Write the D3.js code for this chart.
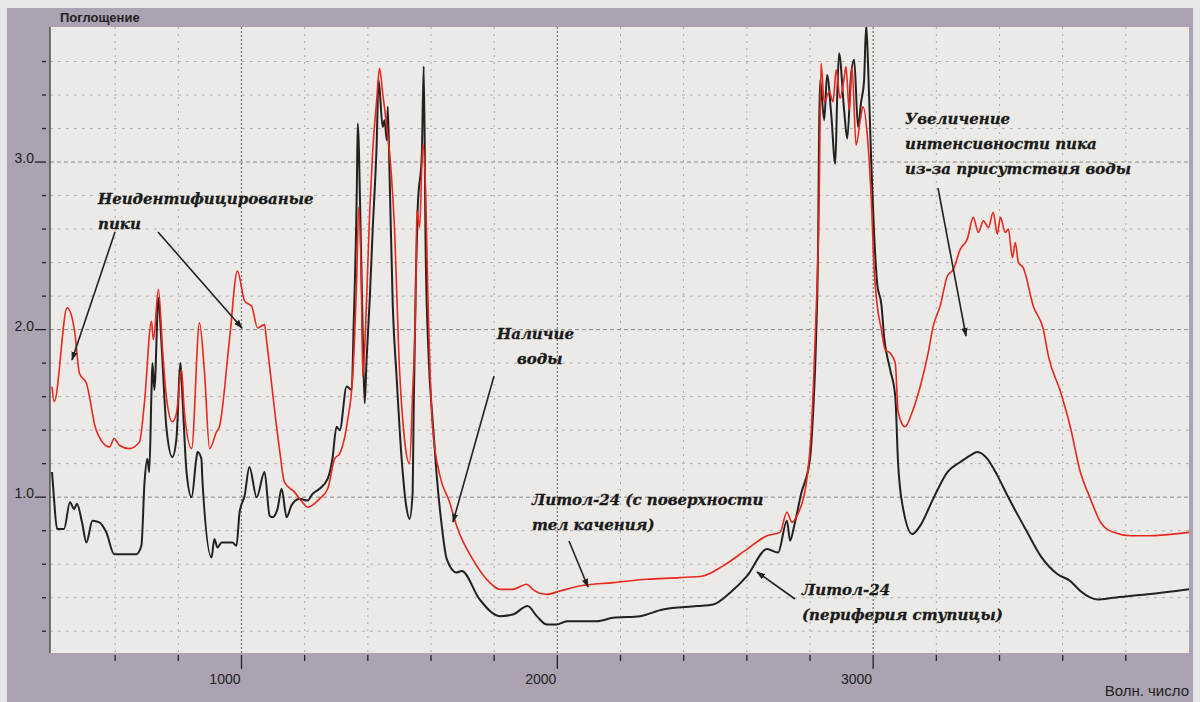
<!DOCTYPE html>
<html>
<head>
<meta charset="utf-8">
<script src="https://cdn.jsdelivr.net/npm/d3@7"></script>
<style>
  body { margin: 0; background: #e6e6e6; }
  svg { display: block; }
  .note { font-family: "DejaVu Serif", serif; font-weight: bold; font-style: italic; font-size: 15px; fill: #1a1a1a; stroke: #1a1a1a; stroke-width: 0.3px; }
  .axis-text { font-family: "Liberation Sans", Arial, sans-serif; font-size: 14px; fill: #222; }
</style>
</head>
<body>
<div id="chart"></div>
<script>
// Литол-24 (с поверхности тел качения) — red
const surfaceSpectrum = [
  [400, 1.66], [407, 1.57], [448, 2.13], [471, 2.0], [487, 1.74], [509, 1.68], [540, 1.4],
  [582, 1.3], [597, 1.35], [613, 1.31], [645, 1.29], [677, 1.33], [693, 1.57], [715, 2.05],
  [721, 1.94], [737, 2.24], [750, 1.88], [762, 1.6], [781, 1.45], [794, 1.5], [810, 1.76],
  [819, 1.51], [842, 1.29], [867, 2.04], [883, 1.74], [899, 1.29], [921, 1.39], [930, 1.42],
  [962, 1.94], [987, 2.35], [1010, 2.17], [1032, 2.14], [1051, 2.01], [1073, 2.03], [1079, 1.94],
  [1120, 1.29], [1136, 1.09], [1168, 1.03], [1193, 0.97], [1209, 0.94], [1247, 0.99], [1273, 1.05],
  [1295, 1.23], [1311, 1.26], [1336, 1.46], [1352, 1.72], [1365, 2.32], [1371, 2.73], [1380, 2.22],
  [1384, 1.72], [1393, 2.02], [1406, 2.71], [1415, 3.05], [1428, 3.37], [1437, 3.56], [1447, 3.41],
  [1460, 3.21], [1475, 2.91], [1485, 2.58], [1498, 1.86], [1517, 1.33], [1532, 1.2], [1542, 1.63],
  [1552, 2.22], [1555, 2.71], [1564, 2.61], [1574, 3.11], [1583, 2.82], [1590, 2.22], [1605, 1.42],
  [1628, 1.13], [1659, 0.97], [1681, 0.83], [1732, 0.63], [1786, 0.49], [1818, 0.45], [1859, 0.45],
  [1903, 0.48], [1922, 0.45], [1967, 0.42], [2008, 0.44], [2071, 0.47], [2176, 0.49], [2284, 0.51],
  [2388, 0.52], [2461, 0.53], [2525, 0.59], [2601, 0.69], [2664, 0.77], [2705, 0.79], [2727, 0.91],
  [2743, 0.85], [2759, 0.89], [2788, 1.08], [2804, 1.4], [2816, 1.93], [2829, 2.78], [2835, 3.59],
  [2845, 3.36], [2861, 3.42], [2873, 3.36], [2883, 3.55], [2895, 3.38], [2908, 3.5], [2914, 3.57],
  [2924, 3.31], [2933, 3.57], [2946, 3.1], [2959, 3.25], [2968, 3.33], [2981, 3.17], [2994, 2.78],
  [3003, 2.36], [3013, 2.14], [3026, 2.0], [3038, 1.88], [3054, 1.86], [3070, 1.8], [3079, 1.51],
  [3101, 1.42], [3124, 1.51], [3149, 1.66], [3174, 1.86], [3190, 2.02], [3212, 2.14], [3235, 2.32],
  [3254, 2.36], [3276, 2.48], [3298, 2.54], [3317, 2.67], [3333, 2.58], [3349, 2.65], [3365, 2.61],
  [3380, 2.7], [3393, 2.57], [3403, 2.67], [3418, 2.58], [3428, 2.6], [3441, 2.43], [3450, 2.52],
  [3460, 2.4], [3475, 2.37], [3507, 2.14], [3539, 2.0], [3555, 1.84], [3593, 1.63], [3624, 1.42],
  [3656, 1.15], [3688, 0.99], [3720, 0.85], [3761, 0.79], [3815, 0.77], [3869, 0.77], [4000, 0.79]
];

// Литол-24 (периферия ступицы) — black
const hubSpectrum = [
  [400, 1.15], [406, 1.0], [416, 0.81], [438, 0.81], [457, 0.97], [470, 0.93], [479, 0.96],
  [495, 0.85], [509, 0.73], [528, 0.86], [550, 0.85], [572, 0.79], [597, 0.66], [623, 0.66],
  [667, 0.66], [683, 0.71], [693, 1.09], [702, 1.23], [708, 1.15], [715, 1.63], [718, 1.8],
  [724, 1.64], [737, 2.19], [746, 1.94], [762, 1.42], [781, 1.24], [794, 1.35], [807, 1.8],
  [813, 1.6], [826, 1.15], [842, 1.0], [857, 1.23], [861, 1.27], [873, 1.23], [876, 1.11],
  [905, 0.64], [914, 0.75], [924, 0.7], [937, 0.73], [971, 0.73], [984, 0.71], [994, 0.91],
  [1010, 1.01], [1025, 1.18], [1048, 1.0], [1073, 1.15], [1089, 0.89], [1098, 0.88], [1114, 0.93],
  [1127, 1.05], [1143, 0.88], [1158, 0.95], [1184, 0.99], [1209, 0.98], [1225, 1.02], [1247, 1.05],
  [1273, 1.11], [1288, 1.23], [1301, 1.42], [1311, 1.4], [1333, 1.66], [1349, 1.64], [1355, 2.02],
  [1365, 2.82], [1368, 3.23], [1377, 2.61], [1384, 1.96], [1390, 1.56], [1396, 1.82], [1406, 2.18],
  [1415, 2.58], [1428, 3.11], [1434, 3.49], [1447, 3.21], [1453, 3.25], [1460, 3.13], [1463, 3.33],
  [1469, 2.91], [1479, 2.14], [1491, 1.72], [1507, 1.23], [1523, 0.93], [1532, 0.87], [1542, 1.03],
  [1545, 1.51], [1552, 2.3], [1558, 2.73], [1571, 3.05], [1577, 3.57], [1583, 2.49], [1593, 1.82],
  [1605, 1.46], [1618, 1.13], [1634, 0.83], [1650, 0.63], [1681, 0.55], [1697, 0.56], [1754, 0.39],
  [1818, 0.29], [1859, 0.3], [1906, 0.35], [1935, 0.29], [1967, 0.24], [1998, 0.24], [2030, 0.26],
  [2125, 0.26], [2176, 0.28], [2262, 0.29], [2334, 0.33], [2442, 0.35], [2493, 0.36], [2547, 0.43],
  [2601, 0.53], [2664, 0.69], [2699, 0.67], [2727, 0.86], [2737, 0.74], [2750, 0.83], [2772, 1.02],
  [2800, 1.23], [2810, 1.51], [2819, 1.93], [2826, 2.57], [2829, 3.21], [2832, 3.49], [2845, 3.25],
  [2854, 3.52], [2867, 3.29], [2880, 2.99], [2886, 3.38], [2892, 3.65], [2908, 3.31], [2918, 3.14],
  [2930, 3.52], [2940, 3.61], [2952, 3.21], [2962, 3.36], [2971, 3.48], [2978, 3.82], [2984, 3.57],
  [2994, 2.99], [3003, 2.57], [3013, 2.27], [3026, 2.15], [3035, 1.95], [3054, 1.76], [3070, 1.6],
  [3079, 1.2], [3095, 0.93], [3124, 0.78], [3149, 0.83], [3190, 0.99], [3235, 1.15], [3276, 1.21],
  [3308, 1.25], [3330, 1.27], [3361, 1.23], [3393, 1.13], [3425, 1.01], [3488, 0.79], [3530, 0.65],
  [3584, 0.54], [3624, 0.5], [3656, 0.44], [3710, 0.39], [3761, 0.4], [3869, 0.42], [4000, 0.45]
];

const xMinorTicks = d3.range(600, 4000, 200);
const xLabelTicks = [1000, 2000, 3000];
const yMinorTicks = d3.range(0.2, 3.7, 0.2).map((v) => +v.toFixed(1));
const yLabelTicks = [1.0, 2.0, 3.0];

const yAxisTitle = "Поглощение";
const xAxisTitle = "Волн. число";

let dimensions = {
  width: 1200,
  height: 702,
  plot: { left: 50, right: 1189, top: 27, bottom: 653 },
};

const svg = d3
  .select("#chart")
  .append("svg")
  .attr("width", dimensions.width)
  .attr("height", dimensions.height);

// outer grey frame of the instrument window
svg
  .append("rect")
  .attr("x", 7)
  .attr("y", 8)
  .attr("width", 1186)
  .attr("height", 700)
  .attr("fill", "#aba3b1");

svg
  .append("rect")
  .attr("x", dimensions.plot.left)
  .attr("y", dimensions.plot.top)
  .attr("width", dimensions.plot.right - dimensions.plot.left)
  .attr("height", dimensions.plot.bottom - dimensions.plot.top)
  .attr("fill", "#ebeae7");

const x = d3.scaleLinear().domain([400, 4000]).range([52, 1189]);
const y = d3.scaleLinear().domain([0.07, 3.8]).range([653, 28]);

svg
  .append("clipPath")
  .attr("id", "plot-clip")
  .append("rect")
  .attr("x", dimensions.plot.left)
  .attr("y", dimensions.plot.top)
  .attr("width", dimensions.plot.right - dimensions.plot.left)
  .attr("height", dimensions.plot.bottom - dimensions.plot.top);

// grid
const grid = svg.append("g");
grid
  .selectAll("line.vgrid")
  .data(xMinorTicks)
  .join("line")
  .attr("x1", (d) => x(d))
  .attr("x2", (d) => x(d))
  .attr("y1", dimensions.plot.top)
  .attr("y2", dimensions.plot.bottom)
  .attr("stroke", (d) => (d % 1000 === 0 ? "#777" : "#a9a9a9"))
  .attr("stroke-width", (d) => (d % 1000 === 0 ? 1.3 : 1))
  .attr("stroke-dasharray", (d) => (d % 1000 === 0 ? "2,2" : "2,5"));

grid
  .selectAll("line.hgrid")
  .data(yMinorTicks)
  .join("line")
  .attr("x1", dimensions.plot.left)
  .attr("x2", dimensions.plot.right)
  .attr("y1", (d) => y(d))
  .attr("y2", (d) => y(d))
  .attr("stroke", (d) => (yLabelTicks.includes(d) ? "#8a8a8a" : "#b0b0b0"))
  .attr("stroke-dasharray", (d) => (yLabelTicks.includes(d) ? "4,3" : "3,5"));

// left border of plot
svg
  .append("line")
  .attr("x1", dimensions.plot.left)
  .attr("x2", dimensions.plot.left)
  .attr("y1", dimensions.plot.top)
  .attr("y2", dimensions.plot.bottom)
  .attr("stroke", "#333")
  .attr("stroke-width", 1.2);

// y ticks and labels
svg
  .selectAll("line.ytick")
  .data(yMinorTicks)
  .join("line")
  .attr("x1", (d) => (yLabelTicks.includes(d) ? 35 : 42))
  .attr("x2", 46)
  .attr("y1", (d) => y(d))
  .attr("y2", (d) => y(d))
  .attr("stroke", "#222")
  .attr("stroke-width", 1.3);

svg
  .selectAll("text.ylabel")
  .data(yLabelTicks)
  .join("text")
  .attr("class", "axis-text")
  .attr("x", 34)
  .attr("y", (d) => y(d) + 1)
  .attr("text-anchor", "end")
  .text((d) => d.toFixed(1));

// x ticks and labels
svg
  .selectAll("line.xtick")
  .data(xMinorTicks)
  .join("line")
  .attr("x1", (d) => x(d))
  .attr("x2", (d) => x(d))
  .attr("y1", 655)
  .attr("y2", (d) => (xLabelTicks.includes(d) ? 669 : 661))
  .attr("stroke", "#222")
  .attr("stroke-width", 1.3);

svg
  .selectAll("text.xlabel")
  .data(xLabelTicks)
  .join("text")
  .attr("class", "axis-text")
  .attr("x", (d) => x(d) - 1)
  .attr("y", 684)
  .attr("text-anchor", "end")
  .text((d) => d);

svg
  .append("text")
  .attr("class", "axis-text")
  .attr("x", 60)
  .attr("y", 22)
  .style("font-size", "13px")
  .style("font-weight", "bold")
  .text(yAxisTitle);

svg
  .append("text")
  .attr("class", "axis-text")
  .attr("x", 1189)
  .attr("y", 696)
  .attr("text-anchor", "end")
  .style("font-size", "15px")
  .text(xAxisTitle);

// spectra
const line = d3
  .line()
  .curve(d3.curveMonotoneX)
  .x((d) => x(d[0]))
  .y((d) => y(d[1]));

const curves = svg.append("g").attr("clip-path", "url(#plot-clip)");
curves
  .append("path")
  .datum(hubSpectrum)
  .attr("d", line)
  .attr("fill", "none")
  .attr("stroke", "#232021")
  .attr("stroke-width", 2)
  .attr("stroke-linejoin", "round");

curves
  .append("path")
  .datum(surfaceSpectrum)
  .attr("d", line)
  .attr("fill", "none")
  .attr("stroke", "#e8271d")
  .attr("stroke-width", 1.6)
  .attr("stroke-linejoin", "round");

// annotations
svg
  .append("defs")
  .append("marker")
  .attr("id", "arrow")
  .attr("viewBox", "0 0 10 10")
  .attr("refX", 9)
  .attr("refY", 5)
  .attr("markerWidth", 9)
  .attr("markerHeight", 9)
  .attr("markerUnits", "userSpaceOnUse")
  .attr("orient", "auto")
  .append("path")
  .attr("d", "M0,1.5L10,5L0,8.5Z")
  .attr("fill", "#222");

const notes = [
  { x: 98, y: 204, lines: ["Неидентифицированые", "пики"] },
  { x: 497, y: 339, lines: ["Наличие", "воды"], indent: [0, 20] },
  { x: 532, y: 505, lines: ["Литол-24 (с поверхности", "тел качения)"] },
  { x: 802, y: 595, lines: ["Литол-24", "(периферия ступицы)"] },
  { x: 905, y: 124, lines: ["Увеличение", "интенсивности пика", "из-за присутствия воды"] },
];

notes.forEach((n) => {
  n.lines.forEach((t, i) => {
    svg
      .append("text")
      .attr("class", "note")
      .attr("x", n.x + (n.indent ? n.indent[i] : 0))
      .attr("y", n.y + i * 25)
      .text(t);
  });
});

const arrows = [
  [115, 232, 72, 360],
  [158, 232, 242, 328],
  [494, 376, 453, 522],
  [569, 541, 588, 587],
  [795, 599, 757, 572],
  [938, 188, 966, 336],
];

svg
  .selectAll("line.arrow")
  .data(arrows)
  .join("line")
  .attr("x1", (d) => d[0])
  .attr("y1", (d) => d[1])
  .attr("x2", (d) => d[2])
  .attr("y2", (d) => d[3])
  .attr("stroke", "#222")
  .attr("stroke-width", 1.6)
  .attr("marker-end", "url(#arrow)");
</script>
</body>
</html>
